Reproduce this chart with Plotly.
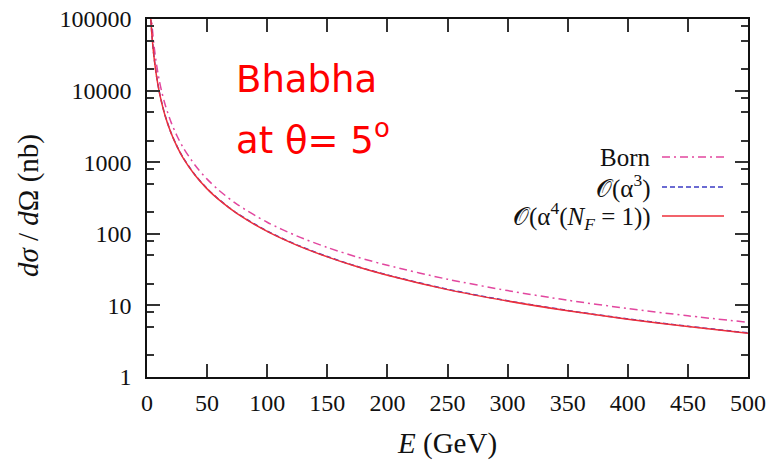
import plotly.graph_objects as go

# ---- data ----
energy_gev = [2.5, 3, 4, 5, 6, 8, 10, 12, 15, 20, 25, 30, 40, 50, 60, 75, 100,
              125, 150, 175, 200, 250, 300, 350, 400, 450, 500]
born = [232000, 161000, 90600, 58000, 40300, 22700, 14500, 10100, 6440, 3630,
        2320, 1610, 906, 580, 403, 258, 145, 92.8, 64.4, 47.3, 36.3, 23.2,
        16.1, 11.8, 9.06, 7.16, 5.80]
alpha3 = [161600, 112100, 63100, 40400, 28100, 15760, 10100, 7070, 4535, 2575,
          1667, 1162, 663, 428, 300, 193, 109, 69.6, 48.1, 34.9, 26.6, 16.8,
          11.6, 8.49, 6.48, 5.11, 4.13]
alpha4 = [160000, 111000, 62500, 40000, 27800, 15600, 10000, 7000, 4490, 2550,
          1650, 1150, 656, 424, 297, 191, 108, 68.9, 47.6, 34.6, 26.3, 16.6,
          11.5, 8.41, 6.42, 5.06, 4.09]

x_ticks = [0, 50, 100, 150, 200, 250, 300, 350, 400, 450, 500]
y_ticks = [1, 10, 100, 1000, 10000, 100000]
y_tick_text = ["1", "10", "100", "1000", "10000", "100000"]
y_minor = [m * d for d in [1, 10, 100, 1000, 10000] for m in (2, 5, 8)]

series_names = ["Born", "𝒪(α<sup>3</sup>)", "𝒪(α<sup>4</sup>(<i>N</i><sub><i>F</i></sub> = 1))"]
series_values = [born, alpha3, alpha4]
series_colors = ["#e2479f", "#3b3bc4", "#ee2f3a"]
series_dash = ["8px,4px,2px,4px", "5px,3px", "solid"]

W, H = 769, 469
L, R, T, B = 147, 21, 19, 92
PW, PH = W - L - R, H - T - B


def px(x):
    return (x - L) / PW


def py(y):
    return (H - B - y) / PH


SERIF = "Liberation Serif, Times New Roman, serif"

fig = go.Figure()
for name, vals, col, dash in zip(series_names, series_values, series_colors, series_dash):
    fig.add_trace(go.Scatter(x=energy_gev, y=vals, mode="lines", name=name,
                             line=dict(color=col, width=1.5, dash=dash, shape="spline",
                                       smoothing=0.8),
                             showlegend=False))

annotations = []
shapes = []
legend_y = [157, 187, 216]
for name, col, dash, ly in zip(series_names, series_colors, series_dash, legend_y):
    annotations.append(dict(x=px(652), y=py(ly), xref="paper", yref="paper", text=name,
                            showarrow=False, xanchor="right", yanchor="middle", borderpad=0,
                            font=dict(family=SERIF, size=25, color="#111")))
    shapes.append(dict(type="line", xref="paper", yref="paper", x0=px(662), x1=px(724),
                       y0=py(ly), y1=py(ly), line=dict(color=col, width=1.5, dash=dash)))

annotations += [
    dict(x=px(234), y=py(79), xref="paper", yref="paper", text="Bhabha", showarrow=False,
         xanchor="left", yanchor="middle", font=dict(family="DejaVu Sans", size=37, color="#ff0000")),
    dict(x=px(234), y=py(137), xref="paper", yref="paper", text="at θ= 5<sup>o</sup>", showarrow=False,
         xanchor="left", yanchor="middle", font=dict(family="DejaVu Sans", size=37, color="#ff0000")),
    dict(x=px(28), y=py(206), xref="paper", yref="paper", text="<i>dσ</i> / <i>d</i>Ω (nb)",
         showarrow=False, textangle=-90, xanchor="center", yanchor="middle",
         font=dict(family=SERIF, size=29, color="#111")),
    dict(x=px(447), y=py(443), xref="paper", yref="paper", text="<i>E</i> (GeV)",
         showarrow=False, xanchor="center", yanchor="middle",
         font=dict(family=SERIF, size=29, color="#111")),
]

axis_common = dict(showline=True, linecolor="#111", linewidth=1.5, mirror="allticks",
                   ticks="inside", tickcolor="#333", tickwidth=1.5, showgrid=False,
                   zeroline=False, automargin=False)

fig.update_layout(
    width=W, height=H,
    margin=dict(l=L, r=R, t=T, b=B, autoexpand=False),
    paper_bgcolor="white", plot_bgcolor="white",
    annotations=annotations, shapes=shapes,
    xaxis=dict(range=[0, 500], tickvals=x_ticks, ticklen=13, ticklabelstandoff=3,
               tickfont=dict(family=SERIF, size=24, color="#111"), **axis_common),
    yaxis=dict(type="log", range=[0, 5], tickvals=y_ticks, ticktext=y_tick_text, ticklen=13,
               ticklabelstandoff=9,
               minor=dict(tickvals=y_minor, ticklen=7, tickcolor="#333", tickwidth=1.5, ticks="inside"),
               tickfont=dict(family=SERIF, size=24, color="#111"), **axis_common),
)

fig.write_html("out.html", config={"displayModeBar": False},
               post_script="document.body.style.margin='0';document.body.style.overflow='hidden';")
